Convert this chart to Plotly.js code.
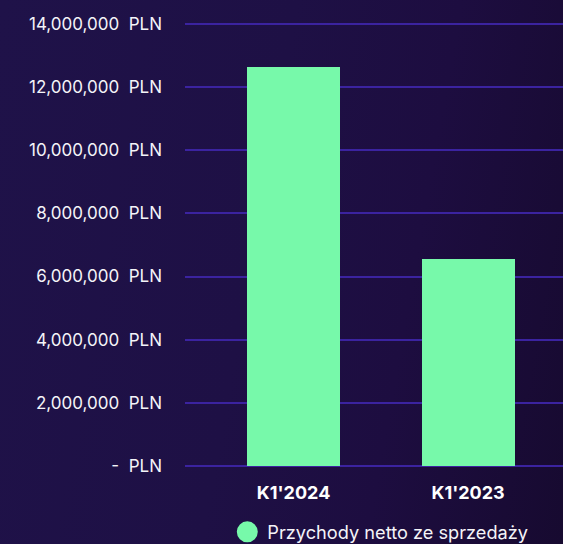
<!DOCTYPE html>
<html>
<head>
<meta charset="utf-8">
<script src="https://cdn.plot.ly/plotly-3.0.1.min.js"></script>
<style>
html,body{margin:0;padding:0;}
body{width:563px;height:544px;overflow:hidden;background:linear-gradient(100deg,#1f1249 0%,#1e1045 45%,#1d0d40 70%,#170a30 100%);}
#chart{width:563px;height:544px;}
</style>
</head>
<body>
<div id="chart"></div>
<script>
const categories = ["K1'2024", "K1'2023"];
const revenue = [12630000, 6550000];
const seriesName = "Przychody netto ze sprzedaży";
const tickValues = [0, 2000000, 4000000, 6000000, 8000000, 10000000, 12000000, 14000000];
const tickLabels = ["-  PLN", "2,000,000  PLN", "4,000,000  PLN", "6,000,000  PLN", "8,000,000  PLN", "10,000,000  PLN", "12,000,000  PLN", "14,000,000  PLN"];

const barColor = "#77f9aa";
const font = "Inter, 'Noto Sans', sans-serif";

const traces = [
  {
    type: "bar",
    x: categories,
    y: revenue,
    width: 0.533,
    marker: {color: barColor, line: {width: 0}},
    showlegend: false,
    hoverinfo: "skip"
  },
  {
    type: "scatter",
    mode: "markers",
    x: [null],
    y: [null],
    name: seriesName,
    marker: {color: barColor, size: 16, line: {color: barColor, width: 5}},
    showlegend: true
  }
];

const layout = {
  width: 563,
  height: 544,
  paper_bgcolor: "rgba(0,0,0,0)",
  plot_bgcolor: "rgba(0,0,0,0)",
  margin: {l: 185, r: 0, t: 22, b: 78, autoexpand: false},
  font: {family: font, color: "#ffffff", size: 17},
  bargap: 0,
  xaxis: {
    type: "category",
    range: [-0.622, 1.544],
    showgrid: false,
    zeroline: false,
    showline: false,
    ticks: "",
    tickfont: {family: font, size: 18, color: "#ffffff", weight: "bold"},
    ticklabelstandoff: 14,
    fixedrange: true
  },
  yaxis: {
    range: [0, 14060000],
    tickvals: tickValues,
    ticktext: tickLabels,
    showgrid: true,
    gridcolor: "#3b23a0",
    gridwidth: 2,
    zeroline: true,
    zerolinecolor: "#3b23a0",
    zerolinewidth: 2,
    showline: false,
    ticks: "",
    ticklabelstandoff: 22,
    tickfont: {family: font, size: 17, color: "#f4f4f8"},
    fixedrange: true
  },
  legend: {
    orientation: "h",
    x: 0.1119,
    xanchor: "left",
    yref: "container",
    y: 0.022,
    yanchor: "middle",
    font: {family: font, size: 18.2, color: "#f4f4f8"},
    bgcolor: "rgba(0,0,0,0)"
  },
  showlegend: true
};

Plotly.newPlot("chart", traces, layout, {displayModeBar: false, staticPlot: true});
</script>
</body>
</html>
